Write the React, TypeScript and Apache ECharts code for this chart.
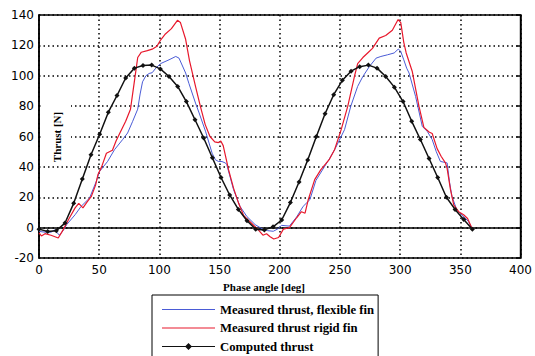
import React, { useEffect, useRef } from "react";
import * as echarts from "echarts";

// Phase angle [deg] and thrust [N] values
const computedAngles = [
  0, 7.2, 14.4, 21.6, 28.8, 36, 43.2, 50.4, 57.6, 64.8, 72, 79.2, 86.4, 93.6, 100.8, 108, 115.2,
  122.4, 129.6, 136.8, 144, 151.2, 158.4, 165.6, 172.8, 180, 187.2, 194.4, 201.6, 208.8, 216,
  223.2, 230.4, 237.6, 244.8, 252, 259.2, 266.4, 273.6, 280.8, 288, 295.2, 302.4, 309.6, 316.8,
  324, 331.2, 338.4, 345.6, 352.8, 360,
];
const computedThrust = [
  -1, -2.5, -2, 3, 16, 32, 48, 61.5, 76, 87, 98.5, 105, 106.8, 107, 104.5, 99.5, 93, 83, 71, 59,
  46, 33, 21.5, 12, 4.5, -1, -1.5, 0.5, 5, 16.5, 30, 44.5, 60, 75, 87.5, 97, 103, 106, 107, 105,
  99.5, 92.5, 83, 70, 58, 45.5, 33, 20, 12, 5.3, -1,
];

const flexibleFin: number[][] = [
  [0, -2.5], [5, -3], [10, -3], [13, -1.5], [17, -5], [20, -2], [23, 2], [30, 8.5], [35, 14],
  [42, 19.5], [47.6, 30.5], [50.3, 37], [57, 43.6], [62.7, 51.3], [69.5, 58], [73.6, 62.3],
  [77.8, 70], [82, 78], [84, 88], [86, 96], [88.8, 100], [91.5, 101.5], [94, 102], [97, 105],
  [101, 108], [108, 110.5], [113.6, 112.7], [116.3, 111.6], [121.8, 101.8], [124.5, 95],
  [130, 82], [133, 75.5], [138.3, 63.5], [143.8, 49], [146.5, 44.7], [149, 43.6], [152, 43.5],
  [155, 42.5], [156, 41.4], [161.6, 25], [167, 14], [172.6, 7.4], [179.5, 2], [186.4, -1.3],
  [190, -2], [194.6, -2.4], [198, -1], [201.5, 1.5], [208, 1], [214, 7], [219.4, 14],
  [225, 18.4], [230, 31], [237, 40], [241, 45], [246, 52], [253.8, 64.5], [259, 80],
  [264.7, 93], [269, 99.5], [274.4, 106], [280, 111.6], [284, 112.7], [289.5, 113.8],
  [295, 115], [298.5, 117.6], [300.5, 116], [303, 110.5], [305.4, 105], [307.4, 101.8],
  [312.8, 86.4], [318.4, 66.6], [322.5, 63.4], [326.6, 58], [330, 50], [333.4, 43.6],
  [339, 42.6], [341, 30], [343, 20.6], [347, 11.8], [351, 8.5], [356.8, 4], [360, -1],
];

const rigidFin: number[][] = [
  [0, -3.5], [2, -5.5], [5, -4], [10, -5], [16, -6.8], [20, -1.5], [25, 6], [30, 13], [33, 16],
  [36.5, 13], [40, 17], [43.5, 20.6], [47, 28], [49, 35], [52, 40], [56, 49], [61, 51], [64, 57],
  [67, 62], [72, 70], [76, 78], [79, 95], [82, 112], [85, 115.5], [90, 116.5], [94, 117.5],
  [98, 119.5], [101, 123.5], [105, 127.5], [110, 131], [115, 136.5], [117.5, 135],
  [121.8, 124], [125, 110], [130, 93], [134, 80], [138, 68], [142, 60], [146, 56.5], [149, 56],
  [151, 57], [153, 54], [157.5, 38], [161.6, 26], [165.8, 16], [170, 8], [175, 4], [182, -1.3],
  [186, -5], [189, -4], [192, -6], [195, -7.5], [199, -6.5], [203, -1], [208, 0], [214, 6.5],
  [218, 10.5], [221, 9.5], [223.5, 18], [229, 31.6], [234, 38], [241, 44.7], [245.5, 51.3],
  [251, 64.5], [256.5, 80], [262, 99.5], [264.7, 108], [269, 112], [273, 115], [277, 118],
  [282.6, 124.8], [288, 126.5], [293.5, 130], [298.3, 137], [300.5, 135], [303, 122],
  [305, 115], [310, 103], [315.6, 80], [319.7, 66], [324, 63], [326.6, 62], [330.7, 52],
  [334, 47], [337.6, 42.6], [339, 39], [341.8, 25], [344.5, 15], [348.6, 10.5], [352.7, 8.5],
  [356, 6], [360, -1],
];

const seriesNames = [
  "Measured thrust, flexible fin",
  "Measured thrust rigid fin",
  "Computed thrust",
];
const xTitle = "Phase angle [deg]";
const yTitle = "Thrust [N]";

const lineIcon = "path://M0,6.5 L53,6.5 L53,7.5 L0,7.5 Z";
const lineDiamondIcon =
  "path://M0,6.5 L23.5,6.5 L26.5,3.5 L29.5,6.5 L53,6.5 L53,7.5 L29.5,7.5 L26.5,10.5 L23.5,7.5 L0,7.5 Z";

export default function App() {
  const ref = useRef<HTMLDivElement>(null);

  useEffect(() => {
    if (!ref.current) return;
    const chart = echarts.init(ref.current, undefined, { renderer: "svg" });
    const computed = computedAngles.map((a, i) => [a, computedThrust[i]]);
    const serif = "'Liberation Serif', 'Times New Roman', serif";
    const sans = "'DejaVu Sans', Verdana, sans-serif";
    const dotted = { color: "#000", width: 1.5, type: [1.5, 3] as number[] };

    chart.setOption({
      animation: false,
      backgroundColor: "#fff",
      grid: {
        left: 39,
        right: 11,
        top: 15,
        bottom: 98,
        show: true,
        borderColor: "#000",
        borderWidth: 1.5,
      },
      xAxis: {
        type: "value",
        min: 0,
        max: 400,
        interval: 50,
        axisLine: { show: true, lineStyle: { color: "#000", width: 1.5 } },
        axisTick: { show: false },
        axisLabel: { color: "#000", fontFamily: sans, fontSize: 12, margin: 6 },
        splitLine: { show: true, lineStyle: dotted },
      },
      yAxis: [
        {
          type: "value",
          min: -20,
          max: 140,
          interval: 20,
          axisLine: { show: true, lineStyle: { color: "#000", width: 1.5 } },
          axisTick: { show: false },
          axisLabel: { color: "#000", fontFamily: sans, fontSize: 12, margin: 5 },
          splitLine: { show: true, lineStyle: dotted },
        },
        {
          type: "value",
          position: "right",
          min: -20,
          max: 140,
          interval: 20,
          axisLine: { show: true, lineStyle: { color: "#000", width: 1.5 } },
          axisTick: { show: true, inside: true, length: 4, lineStyle: { color: "#000", width: 1.5 } },
          axisLabel: { show: false },
          splitLine: { show: false },
        },
      ],
      legend: {
        orient: "vertical",
        left: 152,
        top: 295,
        height: 80,
        padding: [8, 4, 8, 10],
        itemGap: 5.5,
        itemWidth: 53,
        itemHeight: 14,
        borderColor: "#000",
        borderWidth: 1,
        backgroundColor: "#fff",
        data: [
          { name: seriesNames[0], icon: lineIcon },
          { name: seriesNames[1], icon: lineIcon },
          { name: seriesNames[2], icon: lineDiamondIcon },
        ],
        textStyle: { color: "#000", fontFamily: serif, fontWeight: "bold", fontSize: 12.7 },
      },
      graphic: [
        {
          type: "rect",
          z: 5,
          shape: { x: 41, y: 90, width: 30, height: 74 },
          style: { fill: "#fff" },
        },
        {
          type: "text",
          z: 6,
          x: 57,
          y: 137,
          rotation: Math.PI / 2,
          style: {
            text: yTitle,
            fill: "#000",
            font: `bold 11px ${serif}`,
            textAlign: "center",
            textVerticalAlign: "middle",
          },
        },
        {
          type: "text",
          z: 6,
          x: 264,
          y: 287,
          style: {
            text: xTitle,
            fill: "#000",
            font: `bold 11px ${serif}`,
            textAlign: "center",
            textVerticalAlign: "middle",
          },
        },
      ],
      series: [
        {
          name: seriesNames[0],
          type: "line",
          data: flexibleFin,
          symbol: "none",
          lineStyle: { color: "#4a5bd6", width: 1 },
          itemStyle: { color: "#4a5bd6" },
        },
        {
          name: seriesNames[1],
          type: "line",
          data: rigidFin,
          symbol: "none",
          lineStyle: { color: "#e8182c", width: 1.2 },
          itemStyle: { color: "#e8182c" },
        },
        {
          name: seriesNames[2],
          type: "line",
          data: computed,
          symbol: "diamond",
          symbolSize: 5,
          showSymbol: true,
          lineStyle: { color: "#111", width: 1.5 },
          itemStyle: { color: "#111" },
        },
      ],
    });

    return () => chart.dispose();
  }, []);

  return (
    <div
      ref={ref}
      style={{ position: "fixed", left: 0, top: 0, width: 535, height: 356, background: "#fff" }}
    />
  );
}
